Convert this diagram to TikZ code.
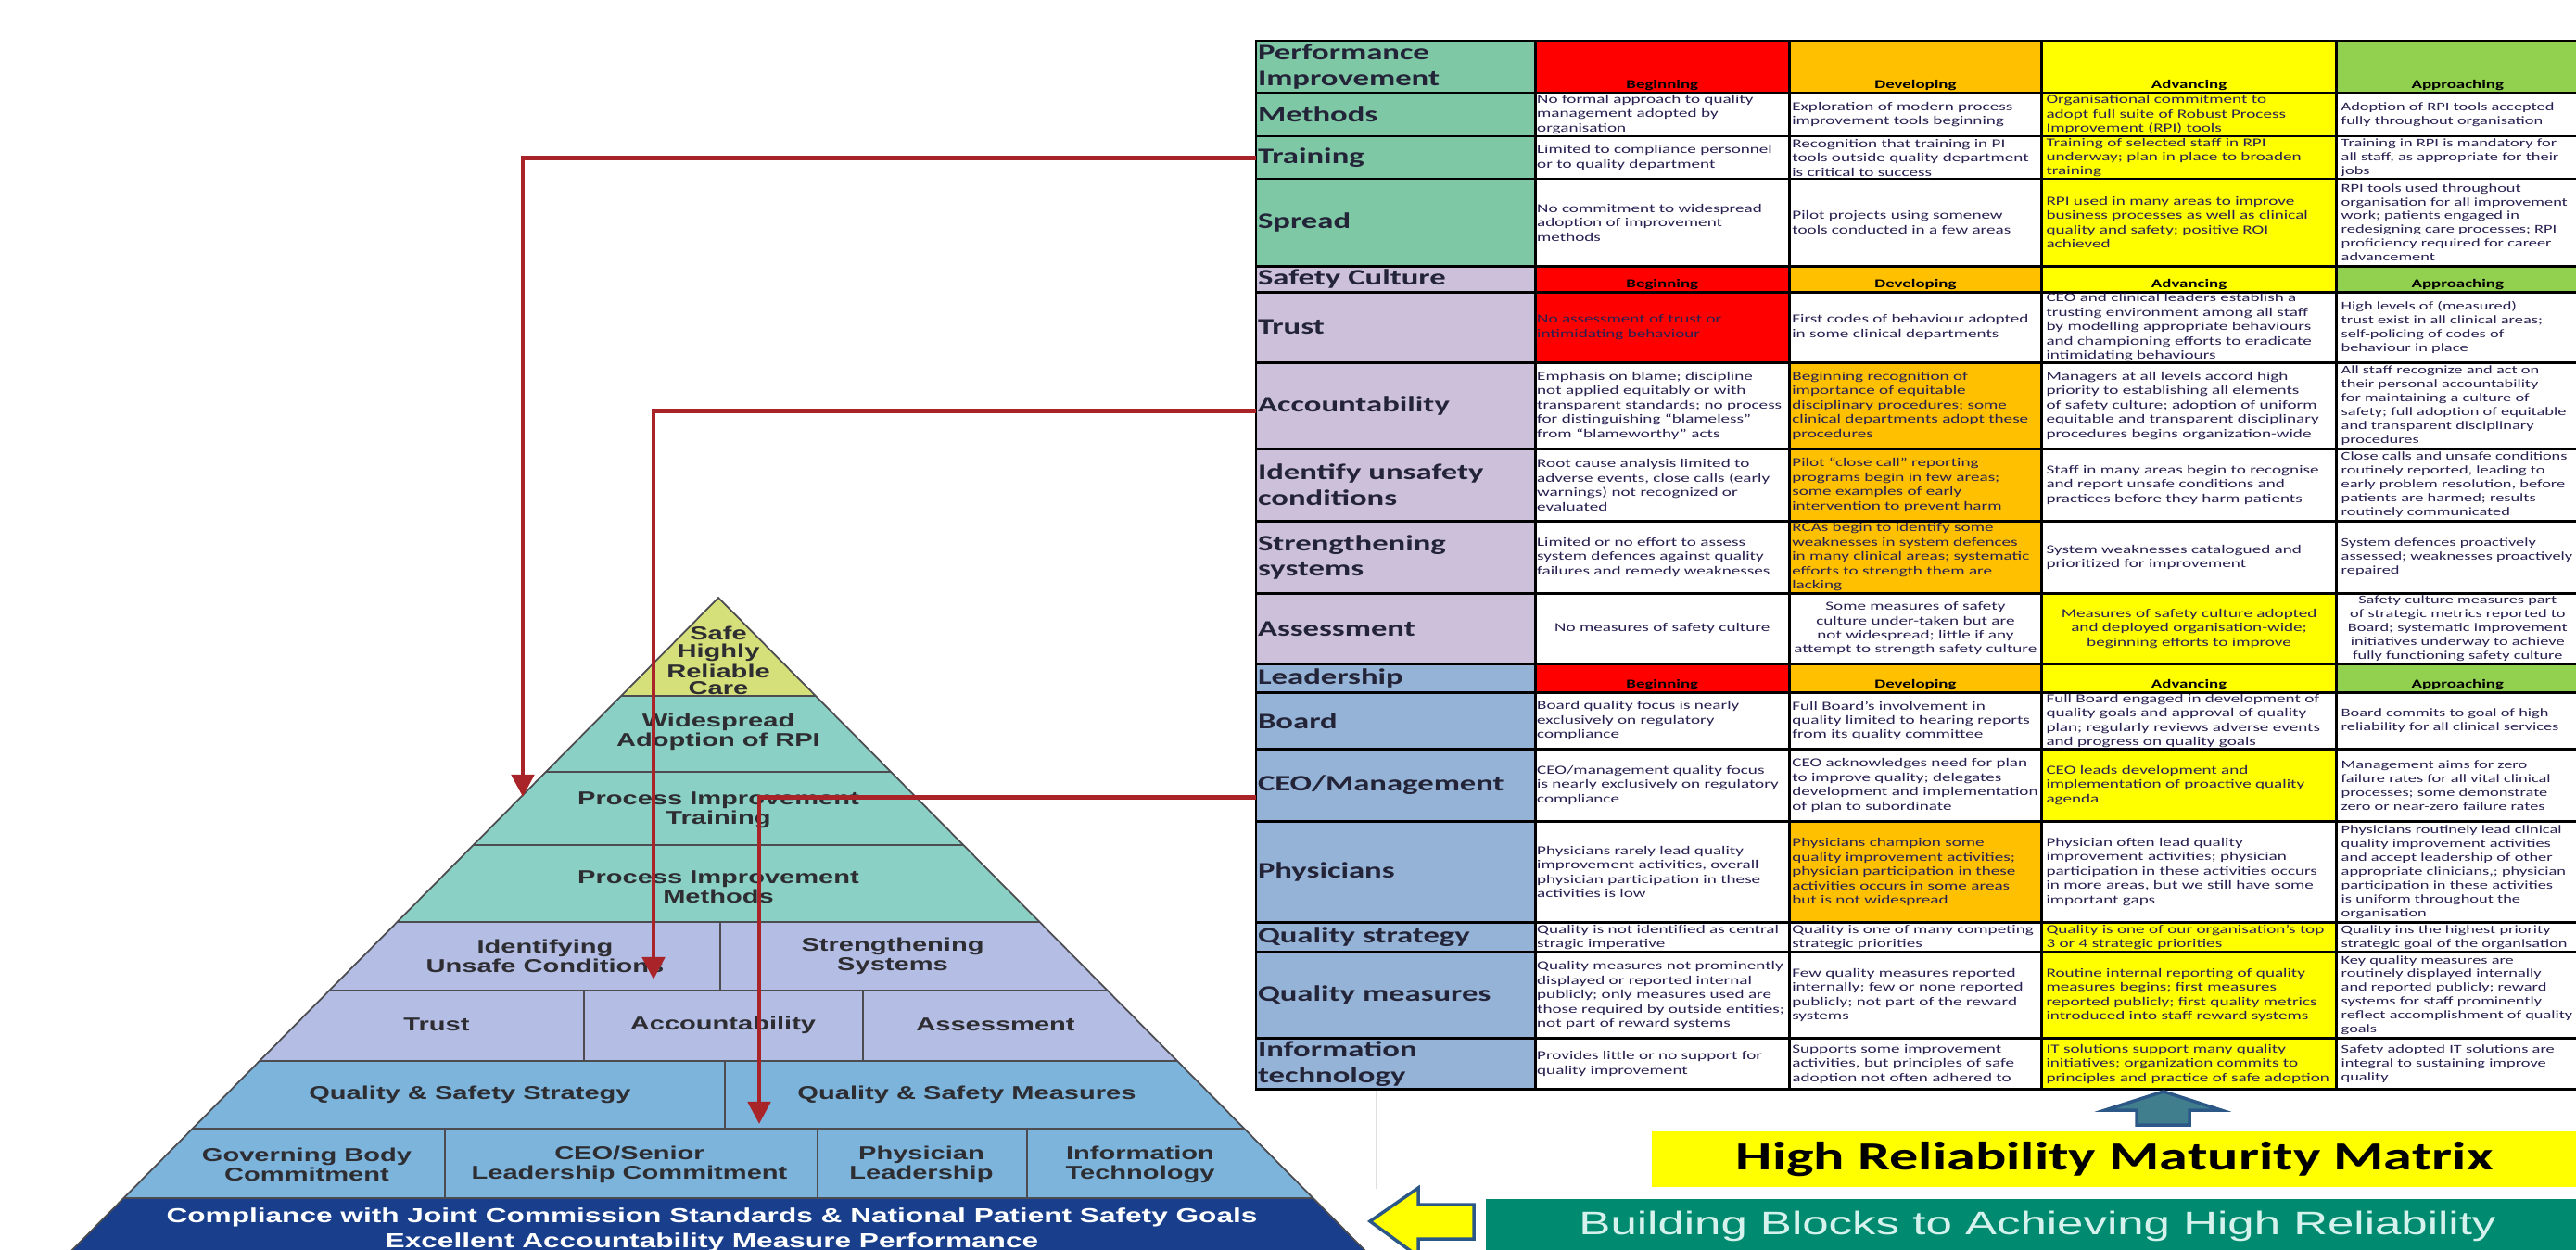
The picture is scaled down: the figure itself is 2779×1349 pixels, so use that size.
\documentclass[tikz,border=0pt]{standalone}
\usepackage{fontspec}
\setmainfont{Liberation Sans}
\newfontfamily\pyrfont{Liberation Sans}[FakeStretch=1.45]
\newfontfamily\matfont{Carlito}[FakeStretch=1.45]
\usetikzlibrary{positioning, arrows.meta}
\hyphenpenalty=10000
\exhyphenpenalty=10000
\tolerance=9999
\emergencystretch=2em

\definecolor{capfill}{RGB}{214,224,122}
\definecolor{rpifill}{RGB}{138,208,196}
\definecolor{safefill}{RGB}{180,190,228}
\definecolor{leadfill}{RGB}{124,180,220}
\definecolor{basefill}{RGB}{24,62,140}
\definecolor{pytext}{RGB}{45,45,50}
\definecolor{linkred}{RGB}{168,36,40}
\definecolor{pigreen}{RGB}{126,200,166}
\definecolor{sclilac}{RGB}{204,192,218}
\definecolor{ldblue}{RGB}{149,179,215}
\definecolor{lvred}{RGB}{255,0,0}
\definecolor{lvorange}{RGB}{255,192,0}
\definecolor{lvyellow}{RGB}{255,255,0}
\definecolor{lvgreen}{RGB}{146,208,80}
\definecolor{celltext}{RGB}{40,32,80}
\definecolor{labtext}{RGB}{36,36,56}
\definecolor{bbgreen}{RGB}{0,138,112}
\definecolor{bbtext}{RGB}{214,242,236}
\definecolor{upteal}{RGB}{64,126,142}
\definecolor{arrowedge}{RGB}{44,88,136}

\tikzset{
  band/.style={draw=pytext!85, line width=0.5pt},
  pyr/.style={font=\pyrfont\bfseries\fontsize{5.7}{5.9}\selectfont, text=pytext, align=center, inner sep=0pt},
  lab/.style={draw=black, line width=0.8pt, outer sep=0pt, inner xsep=0.02cm, inner ysep=0pt,
    text width=2.97cm, align=left, text=labtext, font=\matfont\bfseries\fontsize{6.8}{7.8}\selectfont},
  mcell/.style={draw=black, line width=0.8pt, outer sep=0pt, inner xsep=0.02cm, inner ysep=0pt,
    align=left, text=celltext, fill=white, font=\matfont\fontsize{3.75}{4.4}\selectfont},
  colB/.style={minimum width=2.74cm, text width=2.70cm},
  colD/.style={minimum width=2.72cm, text width=2.66cm},
  colA/.style={minimum width=3.18cm, text width=3.08cm},
  colP/.style={minimum width=2.61cm, text width=2.51cm, font=\matfont\fontsize{3.6}{4.25}\selectfont},
  rowh/.style={minimum height=#1},
  hdrlab/.style={anchor=south, inner sep=0.6pt, text=black, font=\matfont\bfseries\fontsize{3.7}{4}\selectfont},
  link/.style={draw=linkred, line width=1.4pt, -{Triangle[width=0.24cm,length=0.24cm]}},
}

\begin{document}
\begin{tikzpicture}[x=0.01cm, y=-0.01cm]
  \useasboundingbox (0,0) rectangle (2779,1349);
  \clip (0,0) rectangle (2779,1349);

  % maturity matrix
  \node[lab, fill=pigreen, rowh=0.56cm, anchor=north west] (l-pi) at (1355,44) {Performance\\Improvement};
  \node[mcell, colB, rowh=0.56cm, fill=lvred, right=0pt of l-pi, label={[hdrlab]south:Beginning}] (b-pi) {};
  \node[mcell, colD, rowh=0.56cm, fill=lvorange, right=0pt of b-pi, label={[hdrlab]south:Developing}] (d-pi) {};
  \node[mcell, colA, rowh=0.56cm, fill=lvyellow, right=0pt of d-pi, label={[hdrlab]south:Advancing}] (a-pi) {};
  \node[mcell, colP, rowh=0.56cm, fill=lvgreen, right=0pt of a-pi, label={[hdrlab]south:Approaching}] (p-pi) {};

  \node[lab, fill=pigreen, rowh=0.47cm, below=0pt of l-pi] (l-meth) {Methods};
  \node[mcell, colB, rowh=0.47cm, right=0pt of l-meth] (b-meth) {No formal approach to quality management adopted by organisation};
  \node[mcell, colD, rowh=0.47cm, right=0pt of b-meth] (d-meth) {Exploration of modern process improvement tools beginning};
  \node[mcell, colA, rowh=0.47cm, fill=lvyellow, right=0pt of d-meth] (a-meth) {Organisational commitment to adopt full suite of Robust Process Improvement (RPI) tools};
  \node[mcell, colP, rowh=0.47cm, right=0pt of a-meth] (p-meth) {Adoption of RPI tools accepted fully throughout organisation};

  \node[lab, fill=pigreen, rowh=0.46cm, below=0pt of l-meth] (l-train) {Training};
  \node[mcell, colB, rowh=0.46cm, right=0pt of l-train] (b-train) {Limited to compliance personnel or to quality department};
  \node[mcell, colD, rowh=0.46cm, right=0pt of b-train] (d-train) {Recognition that training in PI tools outside quality department is critical to success};
  \node[mcell, colA, rowh=0.46cm, fill=lvyellow, right=0pt of d-train] (a-train) {Training of selected staff in RPI underway; plan in place to broaden training};
  \node[mcell, colP, rowh=0.46cm, right=0pt of a-train] (p-train) {Training in RPI is mandatory for all staff, as appropriate for their jobs};

  \node[lab, fill=pigreen, rowh=0.94cm, below=0pt of l-train] (l-spread) {Spread};
  \node[mcell, colB, rowh=0.94cm, right=0pt of l-spread] (b-spread) {No commitment to widespread adoption of improvement methods};
  \node[mcell, colD, rowh=0.94cm, right=0pt of b-spread] (d-spread) {Pilot projects using somenew tools conducted in a few areas};
  \node[mcell, colA, rowh=0.94cm, fill=lvyellow, right=0pt of d-spread] (a-spread) {RPI used in many areas to improve business processes as well as clinical quality and safety; positive ROI achieved};
  \node[mcell, colP, rowh=0.94cm, right=0pt of a-spread] (p-spread) {RPI tools used throughout organisation for all improvement work; patients engaged in redesigning care processes; RPI proficiency required for career advancement};

  \node[lab, fill=sclilac, rowh=0.28cm, below=0pt of l-spread] (l-sc) {Safety Culture};
  \node[mcell, colB, rowh=0.28cm, fill=lvred, right=0pt of l-sc, label={[hdrlab]south:Beginning}] (b-sc) {};
  \node[mcell, colD, rowh=0.28cm, fill=lvorange, right=0pt of b-sc, label={[hdrlab]south:Developing}] (d-sc) {};
  \node[mcell, colA, rowh=0.28cm, fill=lvyellow, right=0pt of d-sc, label={[hdrlab]south:Advancing}] (a-sc) {};
  \node[mcell, colP, rowh=0.28cm, fill=lvgreen, right=0pt of a-sc, label={[hdrlab]south:Approaching}] (p-sc) {};

  \node[lab, fill=sclilac, rowh=0.76cm, below=0pt of l-sc] (l-trust) {Trust};
  \node[mcell, colB, rowh=0.76cm, fill=lvred, right=0pt of l-trust] (b-trust) {No assessment of trust or intimidating behaviour};
  \node[mcell, colD, rowh=0.76cm, right=0pt of b-trust] (d-trust) {First codes of behaviour adopted in some clinical departments};
  \node[mcell, colA, rowh=0.76cm, right=0pt of d-trust] (a-trust) {CEO and clinical leaders establish a trusting environment among all staff by modelling appropriate behaviours and championing efforts to eradicate intimidating behaviours};
  \node[mcell, colP, rowh=0.76cm, right=0pt of a-trust] (p-trust) {High levels of (measured) trust exist in all clinical areas; self-policing of codes of behaviour in place};

  \node[lab, fill=sclilac, rowh=0.93cm, below=0pt of l-trust] (l-acc) {Accountability};
  \node[mcell, colB, rowh=0.93cm, right=0pt of l-acc] (b-acc) {Emphasis on blame; discipline not applied equitably or with transparent standards; no process for distinguishing “blameless” from “blameworthy” acts};
  \node[mcell, colD, rowh=0.93cm, fill=lvorange, right=0pt of b-acc] (d-acc) {Beginning recognition of importance of equitable disciplinary procedures; some clinical departments adopt these procedures};
  \node[mcell, colA, rowh=0.93cm, right=0pt of d-acc] (a-acc) {Managers at all levels accord high priority to establishing all elements of safety culture; adoption of uniform equitable and transparent disciplinary procedures begins organization-wide};
  \node[mcell, colP, rowh=0.93cm, right=0pt of a-acc] (p-acc) {All staff recognize and act on their personal accountability for maintaining a culture of safety; full adoption of equitable and transparent disciplinary procedures};

  \node[lab, fill=sclilac, rowh=0.78cm, below=0pt of l-acc] (l-ident) {Identify unsafety\\conditions};
  \node[mcell, colB, rowh=0.78cm, right=0pt of l-ident] (b-ident) {Root cause analysis limited to adverse events, close calls (early warnings) not recognized or evaluated};
  \node[mcell, colD, rowh=0.78cm, fill=lvorange, right=0pt of b-ident] (d-ident) {Pilot “close call” reporting programs begin in few areas; some examples of early intervention to prevent harm};
  \node[mcell, colA, rowh=0.78cm, right=0pt of d-ident] (a-ident) {Staff in many areas begin to recognise and report unsafe conditions and practices before they harm patients};
  \node[mcell, colP, rowh=0.78cm, right=0pt of a-ident] (p-ident) {Close calls and unsafe conditions routinely reported, leading to early problem resolution, before patients are harmed; results routinely communicated};

  \node[lab, fill=sclilac, rowh=0.78cm, below=0pt of l-ident] (l-strength) {Strengthening\\systems};
  \node[mcell, colB, rowh=0.78cm, right=0pt of l-strength] (b-strength) {Limited or no effort to assess system defences against quality failures and remedy weaknesses};
  \node[mcell, colD, rowh=0.78cm, fill=lvorange, right=0pt of b-strength] (d-strength) {RCAs begin to identify some weaknesses in system defences in many clinical areas; systematic efforts to strength them are lacking};
  \node[mcell, colA, rowh=0.78cm, right=0pt of d-strength] (a-strength) {System weaknesses catalogued and prioritized for improvement};
  \node[mcell, colP, rowh=0.78cm, right=0pt of a-strength] (p-strength) {System defences proactively assessed; weaknesses proactively repaired};

  \node[lab, fill=sclilac, rowh=0.76cm, below=0pt of l-strength] (l-assess) {Assessment};
  \node[mcell, colB, rowh=0.76cm, align=center, right=0pt of l-assess] (b-assess) {No measures of safety culture};
  \node[mcell, colD, rowh=0.76cm, align=center, right=0pt of b-assess] (d-assess) {Some measures of safety culture under-taken but are not widespread; little if any attempt to strength safety culture};
  \node[mcell, colA, rowh=0.76cm, align=center, fill=lvyellow, right=0pt of d-assess] (a-assess) {Measures of safety culture adopted and deployed organisation-wide; beginning efforts to improve};
  \node[mcell, colP, rowh=0.76cm, align=center, right=0pt of a-assess] (p-assess) {Safety culture measures part of strategic metrics reported to Board; systematic improvement initiatives underway to achieve fully functioning safety culture};

  \node[lab, fill=ldblue, rowh=0.31cm, below=0pt of l-assess] (l-lead) {Leadership};
  \node[mcell, colB, rowh=0.31cm, fill=lvred, right=0pt of l-lead, label={[hdrlab]south:Beginning}] (b-lead) {};
  \node[mcell, colD, rowh=0.31cm, fill=lvorange, right=0pt of b-lead, label={[hdrlab]south:Developing}] (d-lead) {};
  \node[mcell, colA, rowh=0.31cm, fill=lvyellow, right=0pt of d-lead, label={[hdrlab]south:Advancing}] (a-lead) {};
  \node[mcell, colP, rowh=0.31cm, fill=lvgreen, right=0pt of a-lead, label={[hdrlab]south:Approaching}] (p-lead) {};

  \node[lab, fill=ldblue, rowh=0.61cm, below=0pt of l-lead] (l-board) {Board};
  \node[mcell, colB, rowh=0.61cm, right=0pt of l-board] (b-board) {Board quality focus is nearly exclusively on regulatory compliance};
  \node[mcell, colD, rowh=0.61cm, right=0pt of b-board] (d-board) {Full Board’s involvement in\\quality limited to hearing reports\\from its quality committee};
  \node[mcell, colA, rowh=0.61cm, right=0pt of d-board] (a-board) {Full Board engaged in development of quality goals and approval of quality plan; regularly reviews adverse events and progress on quality goals};
  \node[mcell, colP, rowh=0.61cm, right=0pt of a-board] (p-board) {Board commits to goal of high reliability for all clinical services};

  \node[lab, fill=ldblue, rowh=0.78cm, below=0pt of l-board] (l-ceo) {CEO/Management};
  \node[mcell, colB, rowh=0.78cm, right=0pt of l-ceo] (b-ceo) {CEO/management quality focus is nearly exclusively on regulatory compliance};
  \node[mcell, colD, rowh=0.78cm, right=0pt of b-ceo] (d-ceo) {CEO acknowledges need for plan to improve quality; delegates development and implementation of plan to subordinate};
  \node[mcell, colA, rowh=0.78cm, fill=lvyellow, right=0pt of d-ceo] (a-ceo) {CEO leads development and implementation of proactive quality agenda};
  \node[mcell, colP, rowh=0.78cm, right=0pt of a-ceo] (p-ceo) {Management aims for zero failure rates for all vital clinical processes; some demonstrate zero or near-zero failure rates};

  \node[lab, fill=ldblue, rowh=1.09cm, below=0pt of l-ceo] (l-phys) {Physicians};
  \node[mcell, colB, rowh=1.09cm, right=0pt of l-phys] (b-phys) {Physicians rarely lead quality improvement activities, overall physician participation in these activities is low};
  \node[mcell, colD, rowh=1.09cm, fill=lvorange, right=0pt of b-phys] (d-phys) {Physicians champion some\\quality improvement activities;\\physician participation in these\\activities occurs in some areas\\but is not widespread};
  \node[mcell, colA, rowh=1.09cm, right=0pt of d-phys] (a-phys) {Physician often lead quality improvement activities; physician participation in these activities occurs in more areas, but we still have some important gaps};
  \node[mcell, colP, rowh=1.09cm, right=0pt of a-phys] (p-phys) {Physicians routinely lead clinical quality improvement activities and accept leadership of other appropriate clinicians,; physician participation in these activities is uniform throughout the organisation};

  \node[lab, fill=ldblue, rowh=0.32cm, below=0pt of l-phys] (l-qs) {Quality strategy};
  \node[mcell, colB, rowh=0.32cm, right=0pt of l-qs] (b-qs) {Quality is not identified as central stragic imperative};
  \node[mcell, colD, rowh=0.32cm, right=0pt of b-qs] (d-qs) {Quality is one of many competing strategic priorities};
  \node[mcell, colA, rowh=0.32cm, fill=lvyellow, right=0pt of d-qs] (a-qs) {Quality is one of our organisation’s top\\3 or 4 strategic priorities};
  \node[mcell, colP, rowh=0.32cm, right=0pt of a-qs] (p-qs) {Quality ins the highest priority strategic goal of the organisation};

  \node[lab, fill=ldblue, rowh=0.93cm, below=0pt of l-qs] (l-qm) {Quality measures};
  \node[mcell, colB, rowh=0.93cm, right=0pt of l-qm] (b-qm) {Quality measures not prominently displayed or reported internal publicly; only measures used are those required by outside entities; not part of reward systems};
  \node[mcell, colD, rowh=0.93cm, right=0pt of b-qm] (d-qm) {Few quality measures reported internally; few or none reported publicly; not part of the reward systems};
  \node[mcell, colA, rowh=0.93cm, fill=lvyellow, right=0pt of d-qm] (a-qm) {Routine internal reporting of quality measures begins; first measures reported publicly; first quality metrics introduced into staff reward systems};
  \node[mcell, colP, rowh=0.93cm, right=0pt of a-qm] (p-qm) {Key quality measures are routinely displayed internally and reported publicly; reward systems for staff prominently reflect accomplishment of quality goals};

  \node[lab, fill=ldblue, rowh=0.55cm, below=0pt of l-qm] (l-it) {Information\\technology};
  \node[mcell, colB, rowh=0.55cm, right=0pt of l-it] (b-it) {Provides little or no support for quality improvement};
  \node[mcell, colD, rowh=0.55cm, right=0pt of b-it] (d-it) {Supports some improvement activities, but principles of safe adoption not often adhered to};
  \node[mcell, colA, rowh=0.55cm, fill=lvyellow, right=0pt of d-it] (a-it) {IT solutions support many quality initiatives; organization commits to principles and practice of safe adoption};
  \node[mcell, colP, rowh=0.55cm, right=0pt of a-it] (p-it) {Safety adopted IT solutions are integral to sustaining improve quality};

  % building blocks pyramid
  \scope
    \clip (775,645) -- (1475,1352) -- (75,1352) -- cycle;
    \fill[capfill] (0,600) rectangle (1600,751);
    \fill[rpifill] (0,751) rectangle (1600,995);
    \fill[safefill] (0,995) rectangle (1600,1145);
    \fill[leadfill] (0,1145) rectangle (1600,1293);
    \fill[basefill] (0,1293) rectangle (1600,1360);
    \foreach \y in {751,833,912,995,1069,1145,1218,1293}
      \draw[band] (0,\y) -- (1600,\y);
    \draw[band] (777,995) -- (777,1069)
                (630,1069) -- (630,1145) (931,1069) -- (931,1145)
                (782,1145) -- (782,1218)
                (480,1218) -- (480,1293) (882,1218) -- (882,1293) (1108,1218) -- (1108,1293);
  \endscope
  \draw[band] (75,1352) -- (775,645) -- (1475,1352);

  \node[pyr, font=\pyrfont\bfseries\fontsize{5.7}{5.3}\selectfont] (p-cap) at (775,713) {Safe\\Highly\\Reliable\\Care};
  \node[pyr] (p-rpi) at (775,790) {Widespread\\Adoption of RPI};
  \node[pyr] (p-pitrain) at (775,874) {Process Improvement\\Training};
  \node[pyr] (p-pimeth) at (775,957) {Process Improvement\\Methods};
  \node[pyr] (p-ident) at (588,1032) {Identifying\\Unsafe Conditions};
  \node[pyr] (p-strength) at (963,1032) {Strengthening\\Systems};
  \node[pyr] (p-trust) at (471,1106) {Trust};
  \node[pyr] (p-acc) at (780,1106) {Accountability};
  \node[pyr] (p-assess) at (1074,1106) {Assessment};
  \node[pyr] (p-strat) at (507,1181) {Quality \& Safety Strategy};
  \node[pyr] (p-meas) at (1043,1181) {Quality \& Safety Measures};
  \node[pyr] (p-gov) at (331,1257) {Governing Body\\Commitment};
  \node[pyr] (p-ceo) at (679,1257) {CEO/Senior\\Leadership Commitment};
  \node[pyr] (p-phys) at (994,1257) {Physician\\Leadership};
  \node[pyr] (p-it) at (1230,1257) {Information\\Technology};
  \node[pyr, text=white, font=\pyrfont\bfseries\fontsize{6.2}{7.7}\selectfont] (p-base) at (768,1327)
    {Compliance with Joint Commission Standards \& National Patient Safety Goals\\Excellent Accountability Measure Performance};

  % links from the matrix rows down to the blocks
  \coordinate (t-train) at (564,860);
  \coordinate (t-acc) at (705,1057);
  \coordinate (t-ceo) at (819,1213);
  \draw[link] (l-train.west) -| (t-train);
  \draw[link] ([yshift=-0.06cm]l-acc.west) -| (t-acc);
  \draw[link] ([yshift=-0.13cm]l-ceo.west) -| (t-ceo);

  % captions
  \draw[gray!25, line width=0.6pt] (1485,1177) -- (1485,1283);
  \node[fill=lvyellow, anchor=north west, minimum width=9.98cm, minimum height=0.6cm, inner sep=0pt,
        font=\matfont\bfseries\fontsize{12.2}{14}\selectfont] (mm-title) at (1781,1220) {High Reliability Maturity Matrix};
  \node[fill=bbgreen, text=bbtext, anchor=north west, minimum width=11.9cm, minimum height=0.6cm, inner sep=0pt,
        font=\pyrfont\fontsize{10}{12}\selectfont] (bb-title) at (1602,1293) {Building Blocks to Achieving High Reliability};
  \draw[fill=upteal, draw=arrowedge, line width=1pt]
    (2334,1178) -- (2396,1198) -- (2362,1198) -- (2362,1214) -- (2305,1214) -- (2305,1198) -- (2271,1198) -- cycle;
  \draw[fill=lvyellow, draw=arrowedge, line width=1pt]
    (1478,1318) -- (1530,1282) -- (1530,1300) -- (1590,1300) -- (1590,1337) -- (1530,1337) -- (1530,1356) -- cycle;
\end{tikzpicture}
\end{document}
